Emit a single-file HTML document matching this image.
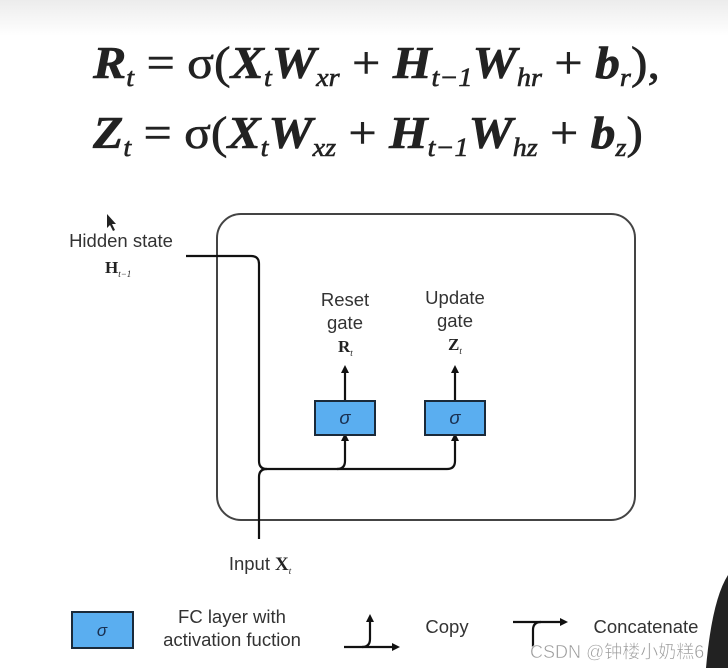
<!DOCTYPE html>
<html><head><meta charset="utf-8"><style>
html,body{margin:0;padding:0;background:#fff;}
svg{display:block;}
</style></head><body>
<svg width="728" height="668" viewBox="0 0 728 668" xmlns="http://www.w3.org/2000/svg">
<defs>
<linearGradient id="tg" x1="0" y1="0" x2="0" y2="1"><stop offset="0" stop-color="#ececec"/><stop offset="1" stop-color="#fff"/></linearGradient>
<marker id="ah" markerWidth="8" markerHeight="8" refX="4" refY="4" orient="auto" markerUnits="userSpaceOnUse"><path d="M0,0 L8,4 L0,8 z" fill="#111"/></marker>
</defs>
<rect x="0" y="0" width="728" height="36" fill="url(#tg)"/>
<g font-family="Liberation Serif, serif" font-weight="bold" font-style="italic" fill="#222" stroke="#222" stroke-width="0.6">
<text x="93" y="78" font-size="46" textLength="567" lengthAdjust="spacingAndGlyphs">R<tspan font-size="26" dy="8" font-weight="normal">t</tspan><tspan dy="-8" font-style="normal" font-weight="normal"> = σ(</tspan>X<tspan font-size="26" dy="8" font-weight="normal">t</tspan><tspan dy="-8">W</tspan><tspan font-size="26" dy="8" font-weight="normal">xr</tspan><tspan dy="-8" font-style="normal" font-weight="normal"> + </tspan>H<tspan font-size="26" dy="8" font-weight="normal">t−1</tspan><tspan dy="-8">W</tspan><tspan font-size="26" dy="8" font-weight="normal">hr</tspan><tspan dy="-8" font-style="normal" font-weight="normal"> + </tspan>b<tspan font-size="26" dy="8" font-weight="normal">r</tspan><tspan dy="-8" font-style="normal" font-weight="normal">),</tspan></text>
<text x="93" y="148" font-size="46" textLength="550" lengthAdjust="spacingAndGlyphs">Z<tspan font-size="26" dy="8" font-weight="normal">t</tspan><tspan dy="-8" font-style="normal" font-weight="normal"> = σ(</tspan>X<tspan font-size="26" dy="8" font-weight="normal">t</tspan><tspan dy="-8">W</tspan><tspan font-size="26" dy="8" font-weight="normal">xz</tspan><tspan dy="-8" font-style="normal" font-weight="normal"> + </tspan>H<tspan font-size="26" dy="8" font-weight="normal">t−1</tspan><tspan dy="-8">W</tspan><tspan font-size="26" dy="8" font-weight="normal">hz</tspan><tspan dy="-8" font-style="normal" font-weight="normal"> + </tspan>b<tspan font-size="26" dy="8" font-weight="normal">z</tspan><tspan dy="-8" font-style="normal" font-weight="normal">)</tspan></text>
</g>
<path d="M107,214 L107,228 L110,225 L113,231 L115,230 L112,224 L116,224 z" fill="#222"/>
<rect x="217" y="214" width="418" height="306" rx="24" fill="none" stroke="#444" stroke-width="2"/>
<g stroke="#111" stroke-width="2.2" fill="none">
<path d="M186,256 L251,256 Q259,256 259,264 L259,461 Q259,469 267,469 L447,469 Q455,469 455,461 L455,437" marker-end="url(#ah)"/>
<path d="M259,539 L259,477 Q259,469 267,469"/>
<path d="M337,469 Q345,469 345,461 L345,437" marker-end="url(#ah)"/>
<path d="M345,401 L345,369" marker-end="url(#ah)"/>
<path d="M455,401 L455,369" marker-end="url(#ah)"/>
</g>
<rect x="315" y="401" width="60" height="34" fill="#5aaef0" stroke="#1a2a3a" stroke-width="2"/>
<rect x="425" y="401" width="60" height="34" fill="#5aaef0" stroke="#1a2a3a" stroke-width="2"/>
<g font-family="Liberation Sans, sans-serif" font-size="18.5" fill="#333" text-anchor="middle">
<text x="345" y="424" font-style="italic" fill="#1a3050">σ</text>
<text x="455" y="424" font-style="italic" fill="#1a3050">σ</text>
<text x="345" y="306">Reset</text>
<text x="345" y="329">gate</text>
<text x="455" y="304">Update</text>
<text x="455" y="327">gate</text>
<text x="121" y="247">Hidden state</text>
<text x="270" y="570" text-anchor="end">Input</text>
<text x="232" y="623">FC layer with</text>
<text x="232" y="646">activation fuction</text>
<text x="447" y="633">Copy</text>
<text x="646" y="633">Concatenate</text>
</g>
<g font-family="Liberation Serif, serif" font-weight="bold" fill="#222">
<text x="105" y="273" font-size="17">H<tspan font-size="9" font-weight="normal" font-style="italic" dy="4">t−1</tspan></text>
<text x="338" y="352" font-size="17">R<tspan font-size="9" font-weight="normal" font-style="italic" dy="4">t</tspan></text>
<text x="448" y="350" font-size="17">Z<tspan font-size="9" font-weight="normal" font-style="italic" dy="4">t</tspan></text>
<text x="275" y="570" font-size="19">X<tspan font-size="9" font-weight="normal" font-style="italic" dy="4">t</tspan></text>
</g>
<rect x="72" y="612" width="61" height="36" fill="#5aaef0" stroke="#1a2a3a" stroke-width="2"/>
<text x="102" y="636" font-family="Liberation Sans, sans-serif" font-size="17" font-style="italic" fill="#1a3050" text-anchor="middle">σ</text>
<g stroke="#111" stroke-width="2.2" fill="none">
<path d="M344,647 L396,647" marker-end="url(#ah)"/>
<path d="M362,647 Q370,647 370,639 L370,618" marker-end="url(#ah)"/>
<path d="M513,622 L564,622" marker-end="url(#ah)"/>
<path d="M533,648 L533,630 Q533,622 541,622"/>
</g>
<path d="M728,575 Q712,600 706,668 L728,668 z" fill="#222"/>
<text x="530" y="658" font-family="Liberation Sans, Noto Sans CJK SC, sans-serif" font-size="18" fill="#999" stroke="#fff" stroke-width="0.5">CSDN @钟楼小奶糕6</text>
</svg>
</body></html>
